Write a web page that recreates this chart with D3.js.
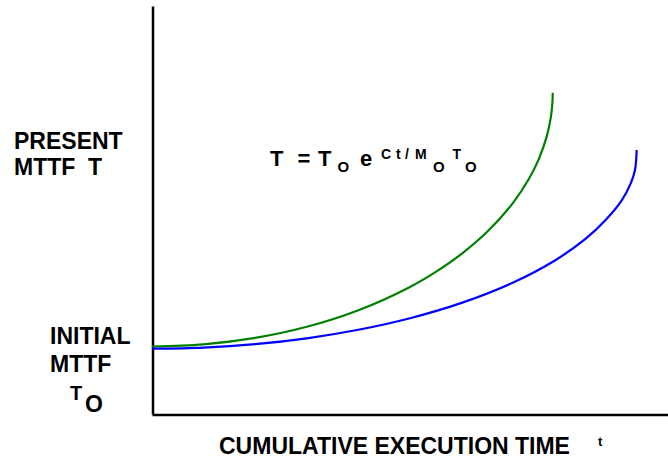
<!DOCTYPE html>
<html><head><meta charset="utf-8">
<script src="https://cdn.jsdelivr.net/npm/d3@7"></script>
<style>body{margin:0;background:#fff}svg{display:block}text{font-family:"Liberation Sans",Arial,sans-serif;font-weight:bold;fill:#000;white-space:pre}</style>
</head><body><svg id="c" width="668" height="466"></svg>
<script>
// Cumulative execution time (0-100, relative) and present MTTF (0-100, relative)
const greenTime = [0, 10, 20, 30, 40, 50, 55, 60, 65, 70, 73, 75, 76.5, 77.3, 77.6, 77.66];
const greenMTTF = [16.54, 17.06, 18.64, 21.37, 25.43, 31.15, 34.83, 39.25, 44.71, 51.81, 57.53, 62.6, 68.04, 72.77, 76.31, 78.75];
const blueTime  = [0, 10, 20, 30, 40, 50, 60, 70, 78, 84, 88, 91, 92.8, 93.6, 93.93];
const blueMTTF  = [16.0, 16.28, 17.12, 18.55, 20.64, 23.47, 27.23, 32.23, 37.57, 42.91, 47.68, 52.3, 56.6, 59.8, 64.71];

const svg = d3.select("#c");
const x = d3.scaleLinear().domain([0, 100]).range([152, 668]);
const y = d3.scaleLinear().domain([0, 100]).range([414, 6]);

svg.append("g").attr("transform","translate(0,414.5)")
  .call(d3.axisBottom(x).ticks(0).tickSizeOuter(0))
  .call(g=>g.select(".domain").attr("stroke","#000").attr("stroke-width",2.5));
svg.append("g").attr("transform","translate(152.5,0)")
  .call(d3.axisLeft(y).ticks(0).tickSizeOuter(0))
  .call(g=>g.select(".domain").attr("stroke","#000").attr("stroke-width",2.5));

const line = d3.line().x(d=>x(d[0])).y(d=>y(d[1])).curve(d3.curveCatmullRom.alpha(0.5));
const series = [
  {t: greenTime, m: greenMTTF, color: "#008000"},
  {t: blueTime, m: blueMTTF, color: "#0000ff"}
];
series.forEach(s=>{
  svg.append("path").datum(s.t.map((v,i)=>[v, s.m[i]]))
    .attr("d", line).attr("fill","none").attr("stroke", s.color).attr("stroke-width", 2.2);
});

function txt(xp, yp, str, size){
  return svg.append("text").attr("x", xp).attr("y", yp).attr("font-size", size).text(str);
}
// Y labels
txt(14, 149, "PRESENT", 23);
txt(14, 175, "MTTF  T", 23);
txt(50, 344, "INITIAL", 23);
txt(50, 371.5, "MTTF", 23);
txt(70, 400, "T", 20);
txt(85, 411.5, "O", 23);

// Formula
txt(270, 165.5, "T", 22);
txt(297.5, 165.5, "=", 22);
txt(318, 165.5, "T", 22);
txt(337.5, 171.5, "O", 15);
txt(360, 165.5, "e", 22);
txt(381, 159.3, "C", 14);
txt(396, 159.3, "t", 14);
txt(405, 159.3, "/", 14);
txt(415, 159.3, "M", 14);
txt(433, 171.5, "O", 15);
txt(452.5, 159.3, "T", 14);
txt(465, 171.5, "O", 15);

// X label
txt(219, 453.5, "CUMULATIVE EXECUTION TIME", 23);
txt(598, 445.5, "t", 13);
</script></body></html>
